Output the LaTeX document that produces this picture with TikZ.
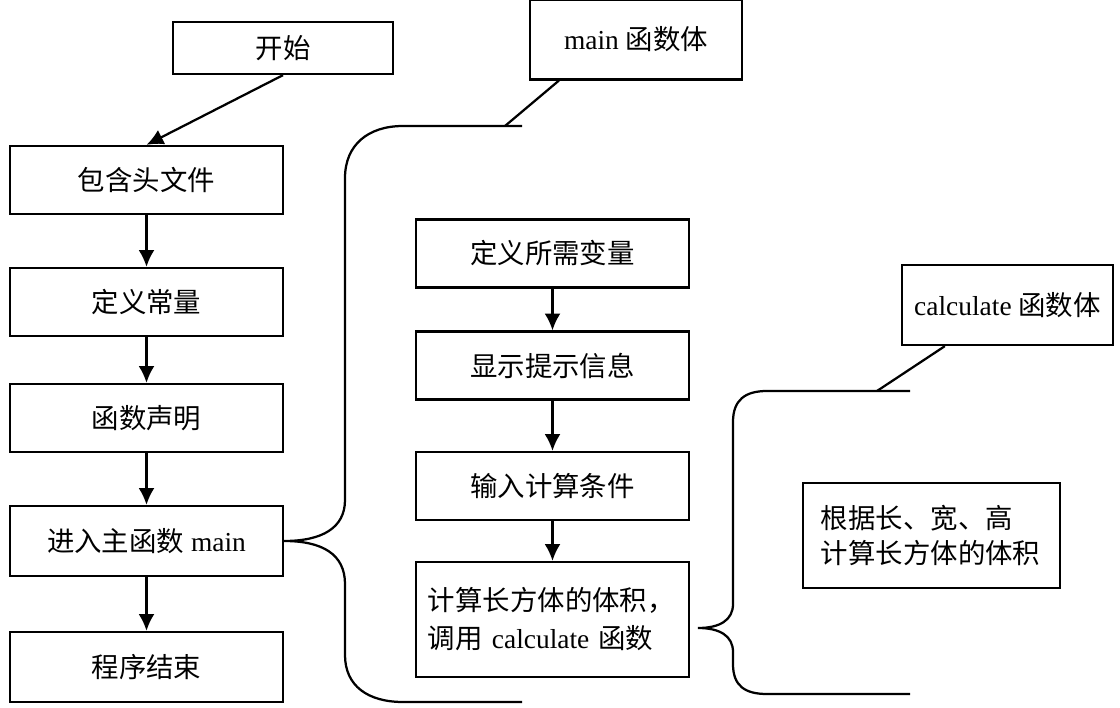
\documentclass[tikz,border=0pt]{standalone}
\usepackage{fontspec}
\setmainfont{Liberation Serif}
\newfontfamily\cjk{Noto Sans CJK SC}
\usetikzlibrary{arrows.meta}

\begin{document}
\begin{tikzpicture}[x=0.025cm,y=-0.025cm,
  font=\fontsize{19.5}{27}\selectfont,
  box/.style={draw,line width=1.6pt,minimum width=6.825cm,minimum height=1.7cm,inner sep=0pt},
  arr/.style={-{Latex[length=4.2mm,width=4mm]},line width=1.6pt},
  brace/.style={line width=1.6pt}]
\useasboundingbox (0,0) rectangle (1120,708);

% top boxes
\node[box,minimum width=5.5cm,minimum height=1.3cm] (start) at (283,48) {\cjk 开始};
\node[box,minimum width=5.3cm,minimum height=2cm] (mainbody) at (636,39.5) {main {\cjk 函数体}};

% left column
\node[box] (include) at (146.5,180) {\cjk 包含头文件};
\node[box] (const) at (146.5,302) {\cjk 定义常量};
\node[box] (decl) at (146.5,418) {\cjk 函数声明};
\node[box,minimum height=1.75cm] (entermain) at (146.5,541) {{\cjk 进入主函数} main};
\node[box,minimum height=1.75cm] (endprog) at (146.5,667) {\cjk 程序结束};

% main body
\node[box] (vars) at (552.5,253.5) {\cjk 定义所需变量};
\node[box] (prompt) at (552.5,365.5) {\cjk 显示提示信息};
\node[box] (input) at (552.5,486) {\cjk 输入计算条件};
\node[box,minimum height=2.875cm,text width=6.225cm,align=left,inner xsep=0.3cm] (calc) at (552.5,619.5)
  {{\cjk 计算长方体的体积，}\\{\cjk 调用} calculate {\cjk 函数}};

% calculate body
\node[box,minimum width=5.275cm,minimum height=2cm] (calcbody) at (1007.5,305) {calculate {\cjk 函数体}};
\node[box,minimum width=6.425cm,minimum height=2.625cm,text width=5.525cm,align=left,inner xsep=0.45cm,
  font=\fontsize{19.5}{25}\selectfont] (volume) at (931.5,535.5)
  {\cjk 根据长、宽、高\\计算长方体的体积};

\draw[arr] (start.south) -- (include.north);
\foreach \a/\b in {include/const,const/decl,decl/entermain,entermain/endprog,vars/prompt,prompt/input,input/calc}
  \draw[arr] (\a) -- (\b);

% braces
\draw[brace] (522,126) -- (403,126) .. controls (368,126) and (345,145) .. (345,178) -- (345,500)
  .. controls (345,528) and (322,541) .. (entermain.east)
  .. controls (322,541) and (345,554) .. (345,584) -- (345,655)
  .. controls (345,686) and (368,702) .. (403,702) -- (522,702);
\coordinate (mtie) at (505,126);
\draw[brace] (mtie) -- ([xshift=0.75cm]mainbody.south west);

\coordinate (ctip) at (698,628);
\draw[brace] (910,391) -- (767,391) .. controls (745,391) and (733,400) .. (733,422) -- (733,604)
  .. controls (733,620) and (720,628) .. (ctip)
  .. controls (720,628) and (733,636) .. (733,652) -- (733,664)
  .. controls (733,686) and (745,694) .. (767,694) -- (910,694);
\coordinate (ctie) at (877,391);
\draw[brace] (ctie) -- ([xshift=1.1cm]calcbody.south west);

\end{tikzpicture}
\end{document}
